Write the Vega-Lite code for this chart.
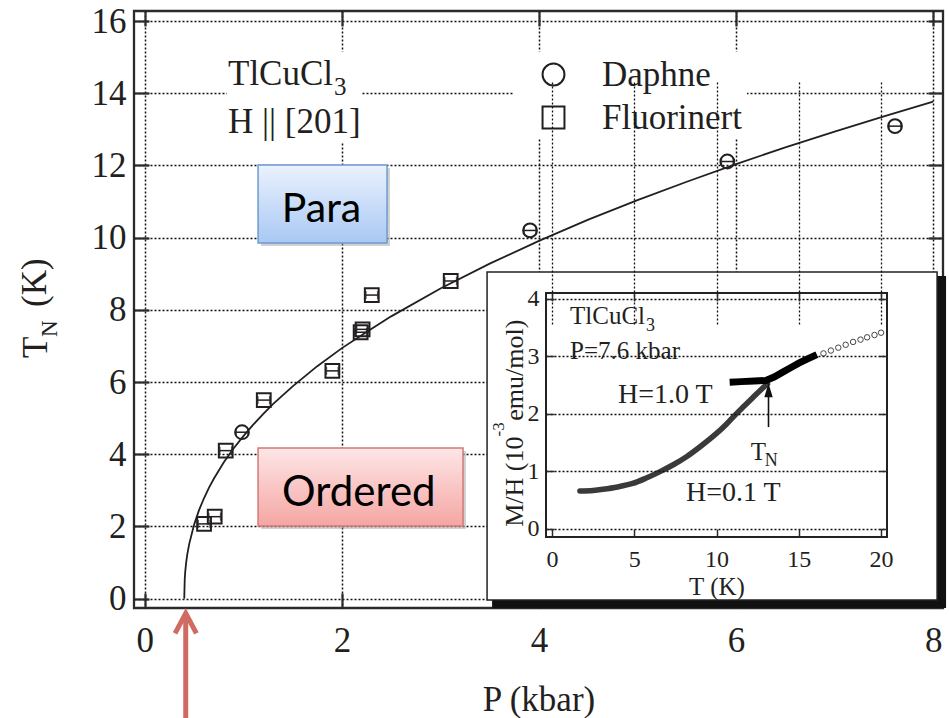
{
  "$schema": "https://vega.github.io/schema/vega-lite/v6.json",
  "width": 809,
  "height": 597,
  "autosize": {"type": "none"},
  "padding": {"left": 134, "top": 11, "right": 6, "bottom": 110},
  "background": "white",
  "datasets": {
    "curve": [
      {"P": 0.4, "TN": 0}, {"P": 0.405, "TN": 0.55}, {"P": 0.41, "TN": 0.75}, {"P": 0.42, "TN": 1.01},
      {"P": 0.43, "TN": 1.21}, {"P": 0.45, "TN": 1.51}, {"P": 0.5, "TN": 2.05}, {"P": 0.55, "TN": 2.45},
      {"P": 0.6, "TN": 2.78}, {"P": 0.65, "TN": 3.07}, {"P": 0.7, "TN": 3.32}, {"P": 0.8, "TN": 3.77},
      {"P": 0.9, "TN": 4.16}, {"P": 1.0, "TN": 4.5}, {"P": 1.1, "TN": 4.82}, {"P": 1.2, "TN": 5.11},
      {"P": 1.3, "TN": 5.39}, {"P": 1.5, "TN": 5.88}, {"P": 1.75, "TN": 6.44}, {"P": 2.0, "TN": 6.94},
      {"P": 2.25, "TN": 7.39}, {"P": 2.5, "TN": 7.82}, {"P": 3.0, "TN": 8.59}, {"P": 3.5, "TN": 9.28},
      {"P": 4.0, "TN": 9.91}, {"P": 4.5, "TN": 10.5}, {"P": 5.0, "TN": 11.04}, {"P": 5.5, "TN": 11.55},
      {"P": 6.0, "TN": 12.04}, {"P": 6.5, "TN": 12.5}, {"P": 7.0, "TN": 12.94}, {"P": 7.5, "TN": 13.36},
      {"P": 8.0, "TN": 13.77}
    ],
    "points": [
      {"medium": "Fluorinert", "P": 0.601, "Pmin": 0.541, "Pmax": 0.661, "TN": 2.07},
      {"medium": "Fluorinert", "P": 0.709, "Pmin": 0.649, "Pmax": 0.769, "TN": 2.27},
      {"medium": "Fluorinert", "P": 0.821, "Pmin": 0.761, "Pmax": 0.881, "TN": 4.10},
      {"medium": "Fluorinert", "P": 1.207, "Pmin": 1.147, "Pmax": 1.267, "TN": 5.50},
      {"medium": "Fluorinert", "P": 1.903, "Pmin": 1.843, "Pmax": 1.963, "TN": 6.31},
      {"medium": "Fluorinert", "P": 2.19, "Pmin": 2.13, "Pmax": 2.25, "TN": 7.38},
      {"medium": "Fluorinert", "P": 2.21, "Pmin": 2.15, "Pmax": 2.27, "TN": 7.46},
      {"medium": "Fluorinert", "P": 2.303, "Pmin": 2.243, "Pmax": 2.363, "TN": 8.41},
      {"medium": "Fluorinert", "P": 3.104, "Pmin": 3.044, "Pmax": 3.164, "TN": 8.80},
      {"medium": "Daphne", "P": 0.986, "Pmin": 0.926, "Pmax": 1.046, "TN": 4.61},
      {"medium": "Daphne", "P": 3.909, "Pmin": 3.849, "Pmax": 3.969, "TN": 10.20},
      {"medium": "Daphne", "P": 5.911, "Pmin": 5.851, "Pmax": 5.971, "TN": 12.11},
      {"medium": "Daphne", "P": 7.613, "Pmin": 7.553, "Pmax": 7.673, "TN": 13.09}
    ],
    "low": [
      {"T": 1.7, "MH": 0.66}, {"T": 2.5, "MH": 0.67}, {"T": 3.1, "MH": 0.69}, {"T": 4.0, "MH": 0.73},
      {"T": 4.9, "MH": 0.79}, {"T": 5.7, "MH": 0.88}, {"T": 6.6, "MH": 1.0}, {"T": 7.4, "MH": 1.12},
      {"T": 8.2, "MH": 1.26}, {"T": 9.1, "MH": 1.45}, {"T": 10.0, "MH": 1.66}, {"T": 10.6, "MH": 1.82},
      {"T": 11.2, "MH": 2.0}, {"T": 11.7, "MH": 2.14}, {"T": 12.2, "MH": 2.28}, {"T": 12.7, "MH": 2.42},
      {"T": 13.1, "MH": 2.52}
    ],
    "high": [
      {"T": 10.8, "MH": 2.55}, {"T": 11.5, "MH": 2.56}, {"T": 12.3, "MH": 2.57}, {"T": 13.0, "MH": 2.58},
      {"T": 13.5, "MH": 2.64}, {"T": 14.0, "MH": 2.72}, {"T": 14.5, "MH": 2.8}, {"T": 15.0, "MH": 2.88},
      {"T": 15.5, "MH": 2.95}, {"T": 16.1, "MH": 3.03}
    ],
    "open": [
      {"T": 16.5, "MH": 3.05}, {"T": 16.95, "MH": 3.1}, {"T": 17.4, "MH": 3.15}, {"T": 17.85, "MH": 3.2},
      {"T": 18.3, "MH": 3.25}, {"T": 18.75, "MH": 3.29}, {"T": 19.15, "MH": 3.33}, {"T": 19.6, "MH": 3.37},
      {"T": 20.0, "MH": 3.41}
    ]
  },
  "layer": [
    {
      "layer": [
        {
          "data": {"name": "curve"},
          "mark": {"type": "line", "color": "#231f20", "strokeWidth": 1.8},
          "encoding": {
            "x": {
              "field": "P", "type": "quantitative",
              "scale": {"domain": [-0.11, 8.1], "nice": false, "zero": false},
              "axis": {
                "values": [0, 2, 4, 6, 8], "format": "d", "grid": true, "gridWidth": 1.5, "gridDash": [2, 2],
                "tickSize": -15, "tickWidth": 2.2, "labelFontSize": 35, "labelBaseline": "alphabetic",
                "labelPadding": 58, "title": "P (kbar)", "titleFontSize": 35, "titleBaseline": "alphabetic",
                "titleY": 102, "zindex": 0
              }
            },
            "y": {
              "field": "TN", "type": "quantitative",
              "scale": {"domain": [-0.26, 16.28], "nice": false, "zero": false},
              "axis": {
                "values": [0, 2, 4, 6, 8, 10, 12, 14, 16], "format": "d", "grid": true, "gridWidth": 1.5, "gridDash": [2, 2],
                "tickSize": -15, "tickWidth": 2.2, "labelFontSize": 35, "labelBaseline": "middle",
                "labelPadding": 23, "title": null, "zindex": 0
              }
            }
          }
        },
        {
          "data": {"values": [{}]},
          "mark": {"type": "rect", "fill": "#9a9a9a", "opacity": 0.45},
          "encoding": {"x": {"datum": 1.179}, "x2": {"datum": 2.488}, "y": {"datum": 11.93}, "y2": {"datum": 9.77}}
        },
        {
          "data": {"values": [{}]},
          "mark": {"type": "rect", "stroke": "#6e9bd0", "strokeWidth": 1.5,
            "fill": {"gradient": "linear", "x1": 0, "y1": 0, "x2": 0, "y2": 1,
              "stops": [{"offset": 0, "color": "#eaf2fd"}, {"offset": 1, "color": "#a9c8f4"}]}},
          "encoding": {"x": {"datum": 1.149}, "x2": {"datum": 2.458}, "y": {"datum": 12.01}, "y2": {"datum": 9.85}}
        },
        {
          "data": {"values": [{}]},
          "mark": {"type": "text", "text": "Para", "font": "Lato", "fontSize": 41, "align": "center", "baseline": "alphabetic", "color": "#000000"},
          "encoding": {"x": {"datum": 1.793}, "y": {"datum": 10.43}}
        },
        {
          "data": {"values": [{}]},
          "mark": {"type": "rect", "fill": "#9a9a9a", "opacity": 0.45},
          "encoding": {"x": {"datum": 1.179}, "x2": {"datum": 3.259}, "y": {"datum": 4.09}, "y2": {"datum": 1.93}}
        },
        {
          "data": {"values": [{}]},
          "mark": {"type": "rect", "stroke": "#d27a76", "strokeWidth": 1.5,
            "fill": {"gradient": "linear", "x1": 0, "y1": 0, "x2": 0, "y2": 1,
              "stops": [{"offset": 0, "color": "#fde6e6"}, {"offset": 1, "color": "#f5a6a4"}]}},
          "encoding": {"x": {"datum": 1.149}, "x2": {"datum": 3.229}, "y": {"datum": 4.17}, "y2": {"datum": 2.01}}
        },
        {
          "data": {"values": [{}]},
          "mark": {"type": "text", "text": "Ordered", "font": "Lato", "fontSize": 42, "align": "center", "baseline": "alphabetic", "color": "#000000"},
          "encoding": {"x": {"datum": 2.172}, "y": {"datum": 2.574}}
        },
        {
          "data": {"values": [{}]},
          "mark": {"type": "rect", "fill": "white"},
          "encoding": {"x": {"datum": 0.834}, "x2": {"datum": 2.204}, "y": {"datum": 15.15}, "y2": {"datum": 12.62}}
        },
        {
          "data": {"values": [{}]},
          "mark": {"type": "rect", "fill": "white"},
          "encoding": {"x": {"datum": 3.737}, "x2": {"datum": 6.111}, "y": {"datum": 15.15}, "y2": {"datum": 12.76}}
        },
        {
          "data": {"name": "points"},
          "mark": {"type": "rule", "color": "#231f20", "strokeWidth": 1.5},
          "encoding": {"x": {"field": "Pmin", "type": "quantitative"}, "x2": {"field": "Pmax"}, "y": {"field": "TN", "type": "quantitative"}}
        },
        {
          "data": {"name": "points"},
          "mark": {"type": "tick", "orient": "vertical", "size": 8, "thickness": 1.5, "color": "#231f20"},
          "encoding": {"x": {"field": "Pmin", "type": "quantitative"}, "y": {"field": "TN", "type": "quantitative"}}
        },
        {
          "data": {"name": "points"},
          "mark": {"type": "tick", "orient": "vertical", "size": 8, "thickness": 1.5, "color": "#231f20"},
          "encoding": {"x": {"field": "Pmax", "type": "quantitative"}, "y": {"field": "TN", "type": "quantitative"}}
        },
        {
          "data": {"name": "points"},
          "mark": {"type": "point", "filled": false, "size": 190, "strokeWidth": 2, "color": "#231f20", "opacity": 1},
          "encoding": {
            "x": {"field": "P", "type": "quantitative"},
            "y": {"field": "TN", "type": "quantitative"},
            "shape": {
              "field": "medium", "type": "nominal",
              "scale": {"domain": ["Daphne", "Fluorinert"], "range": ["circle", "square"]},
              "legend": {
                "title": null, "orient": "none", "legendX": 402, "legendY": 46, "padding": 0,
                "symbolSize": 480, "symbolStrokeWidth": 2, "symbolStrokeColor": "#231f20",
                "labelFont": "Liberation Serif", "labelFontSize": 35, "labelColor": "#231f20",
                "labelOffset": 31, "rowPadding": 7
              }
            }
          }
        },
        {
          "data": {"values": [{}]},
          "mark": {"type": "text", "text": "TlCuCl", "fontSize": 35, "align": "left", "baseline": "alphabetic", "color": "#231f20"},
          "encoding": {"x": {"datum": 0.844}, "y": {"datum": 14.23}}
        },
        {
          "data": {"values": [{}]},
          "mark": {"type": "text", "text": "3", "fontSize": 25, "align": "left", "baseline": "alphabetic", "color": "#231f20"},
          "encoding": {"x": {"datum": 1.92}, "y": {"datum": 13.95}}
        },
        {
          "data": {"values": [{}]},
          "mark": {"type": "text", "text": "H || [201]", "fontSize": 35, "align": "left", "baseline": "alphabetic", "color": "#231f20"},
          "encoding": {"x": {"datum": 0.844}, "y": {"datum": 12.9}}
        },
        {
          "data": {"values": [{}]},
          "mark": {"type": "text", "text": "T", "fontSize": 35, "angle": 270, "align": "left", "baseline": "alphabetic", "color": "#231f20"},
          "encoding": {"x": {"datum": -0.9925}, "y": {"datum": 6.667}}
        },
        {
          "data": {"values": [{}]},
          "mark": {"type": "text", "text": "N", "fontSize": 23, "angle": 270, "align": "left", "baseline": "alphabetic", "color": "#231f20"},
          "encoding": {"x": {"datum": -0.891}, "y": {"datum": 7.249}}
        },
        {
          "data": {"values": [{}]},
          "mark": {"type": "text", "text": "(K)", "fontSize": 35, "angle": 270, "align": "left", "baseline": "alphabetic", "color": "#231f20"},
          "encoding": {"x": {"datum": -1.003}, "y": {"datum": 8.08}}
        },
        {
          "data": {"values": [{}]},
          "mark": {"type": "rule", "color": "#cf6b63", "strokeWidth": 5},
          "encoding": {"x": {"datum": 0.415}, "y": {"datum": -0.5}, "y2": {"datum": -3.4}}
        },
        {
          "data": {"values": [{}]},
          "mark": {"type": "point", "shape": "M-0.535,1L0,0L0.535,1", "size": 1600, "filled": false, "stroke": "#cf6b63", "strokeWidth": 5, "strokeJoin": "miter", "opacity": 1},
          "encoding": {"x": {"datum": 0.415}, "y": {"datum": -0.41}}
        },
        {
          "data": {"values": [{}]},
          "mark": {"type": "rect", "fill": "#111111"},
          "encoding": {"x": {"datum": 3.524}, "x2": {"datum": 8.131}, "y": {"datum": 8.939}, "y2": {"datum": -0.26}}
        },
        {
          "data": {"values": [{}]},
          "mark": {"type": "rect", "fill": "white", "stroke": "#222222", "strokeWidth": 1.5},
          "encoding": {"x": {"datum": 3.473}, "x2": {"datum": 8.04}, "y": {"datum": 9.05}, "y2": {"datum": -0.039}}
        }
      ]
    },
    {
      "layer": [
        {
          "data": {"values": [{}]},
          "mark": {"type": "rect", "fill": null, "fillOpacity": 0, "stroke": "#222222", "strokeWidth": 2},
          "encoding": {
            "x": {
              "datum": -0.36, "type": "quantitative",
              "scale": {"domain": [-0.36, 20.36], "range": [412, 753], "nice": false, "zero": false},
              "axis": {
                "orient": "bottom", "offset": -71, "values": [0, 5, 10, 15, 20], "format": "d", "grid": true, "gridWidth": 1.3,
                "gridDash": [2, 2], "tickSize": -8, "tickWidth": 1.5, "labelFontSize": 24, "labelBaseline": "alphabetic",
                "labelPadding": 37, "title": "T (K)", "titleFontSize": 25, "titleBaseline": "alphabetic", "titleY": 57, "zindex": 1
              }
            },
            "x2": {"datum": 20.36},
            "y": {
              "datum": -0.14, "type": "quantitative",
              "scale": {"domain": [-0.14, 4.1], "range": [526, 282], "nice": false, "zero": false},
              "axis": {
                "orient": "left", "offset": -412, "values": [0, 1, 2, 3, 4], "format": "d", "grid": true, "gridWidth": 1.3,
                "gridDash": [2, 2], "tickSize": -8, "tickWidth": 1.5, "labelFontSize": 24, "labelBaseline": "middle",
                "labelPadding": 15, "title": null, "zindex": 1
              }
            },
            "y2": {"datum": 4.1}
          }
        },
        {
          "data": {"name": "low"},
          "mark": {"type": "line", "color": "#3a3a3a", "strokeWidth": 5.5, "strokeCap": "round", "interpolate": "monotone"},
          "encoding": {"x": {"field": "T", "type": "quantitative"}, "y": {"field": "MH", "type": "quantitative"}}
        },
        {
          "data": {"name": "high"},
          "mark": {"type": "line", "color": "#000000", "strokeWidth": 7, "strokeCap": "butt"},
          "encoding": {"x": {"field": "T", "type": "quantitative"}, "y": {"field": "MH", "type": "quantitative"}}
        },
        {
          "data": {"name": "open"},
          "mark": {"type": "point", "filled": false, "size": 30, "strokeWidth": 1, "color": "#444444", "opacity": 1},
          "encoding": {"x": {"field": "T", "type": "quantitative"}, "y": {"field": "MH", "type": "quantitative"}}
        },
        {
          "data": {"values": [{}]},
          "mark": {"type": "rule", "color": "#111111", "strokeWidth": 1.6},
          "encoding": {"x": {"datum": 13.16}, "y": {"datum": 1.77}, "y2": {"datum": 2.4}}
        },
        {
          "data": {"values": [{}]},
          "mark": {"type": "point", "shape": "M0,-1L-0.6,1L0.6,1Z", "size": 196, "filled": true, "color": "#111111", "opacity": 1},
          "encoding": {"x": {"datum": 13.16}, "y": {"datum": 2.41}}
        },
        {
          "data": {"values": [{}]},
          "mark": {"type": "text", "text": "TlCuCl", "fontSize": 25, "align": "left", "baseline": "alphabetic", "color": "#231f20"},
          "encoding": {"x": {"datum": 1.1}, "y": {"datum": 3.57}}
        },
        {
          "data": {"values": [{}]},
          "mark": {"type": "text", "text": "3", "fontSize": 18, "align": "left", "baseline": "alphabetic", "color": "#231f20"},
          "encoding": {"x": {"datum": 5.72}, "y": {"datum": 3.44}}
        },
        {
          "data": {"values": [{}]},
          "mark": {"type": "text", "text": "P=7.6 kbar", "fontSize": 25, "align": "left", "baseline": "alphabetic", "color": "#231f20"},
          "encoding": {"x": {"datum": 1.1}, "y": {"datum": 2.95}}
        },
        {
          "data": {"values": [{}]},
          "mark": {"type": "text", "text": "H=1.0 T", "fontSize": 28, "align": "left", "baseline": "alphabetic", "color": "#231f20"},
          "encoding": {"x": {"datum": 4.01}, "y": {"datum": 2.19}}
        },
        {
          "data": {"values": [{}]},
          "mark": {"type": "text", "text": "H=0.1 T", "fontSize": 28, "align": "left", "baseline": "alphabetic", "color": "#231f20"},
          "encoding": {"x": {"datum": 8.15}, "y": {"datum": 0.49}}
        },
        {
          "data": {"values": [{}]},
          "mark": {"type": "text", "text": "T", "fontSize": 25, "align": "left", "baseline": "alphabetic", "color": "#231f20"},
          "encoding": {"x": {"datum": 12.08}, "y": {"datum": 1.197}}
        },
        {
          "data": {"values": [{}]},
          "mark": {"type": "text", "text": "N", "fontSize": 18, "align": "left", "baseline": "alphabetic", "color": "#231f20"},
          "encoding": {"x": {"datum": 12.93}, "y": {"datum": 1.09}}
        },
        {
          "data": {"values": [{}]},
          "mark": {"type": "text", "text": "M/H (10", "fontSize": 26, "angle": 270, "align": "left", "baseline": "alphabetic", "color": "#231f20"},
          "encoding": {"x": {"datum": -1.756}, "y": {"datum": 0.038}}
        },
        {
          "data": {"values": [{}]},
          "mark": {"type": "text", "text": "-3", "fontSize": 17, "angle": 270, "align": "left", "baseline": "alphabetic", "color": "#231f20"},
          "encoding": {"x": {"datum": -2.91}, "y": {"datum": 1.607}}
        },
        {
          "data": {"values": [{}]},
          "mark": {"type": "text", "text": "emu/mol)", "fontSize": 26, "angle": 270, "align": "left", "baseline": "alphabetic", "color": "#231f20"},
          "encoding": {"x": {"datum": -1.756}, "y": {"datum": 1.88}}
        }
      ]
    },
    {
      "data": {"values": [{}]},
      "mark": {"type": "point", "opacity": 0},
      "encoding": {
        "x": {
          "datum": 0, "type": "quantitative",
          "scale": {"domain": [-0.11, 8.1], "nice": false, "zero": false},
          "axis": {"orient": "top", "values": [0, 2, 4, 6, 8], "labels": false, "grid": false, "tickSize": -15, "tickWidth": 2.2, "title": null}
        },
        "y": {
          "datum": 0, "type": "quantitative",
          "scale": {"domain": [-0.26, 16.28], "nice": false, "zero": false},
          "axis": {"orient": "right", "values": [0, 2, 4, 6, 8, 10, 12, 14, 16], "labels": false, "grid": false, "tickSize": -15, "tickWidth": 2.2, "title": null}
        }
      }
    },
    {
      "data": {"values": [{}]},
      "mark": {"type": "point", "opacity": 0},
      "encoding": {
        "x": {
          "datum": 0, "type": "quantitative",
          "scale": {"domain": [-0.36, 20.36], "range": [412, 753], "nice": false, "zero": false},
          "axis": {"orient": "top", "offset": -282, "values": [0, 5, 10, 15, 20], "labels": false, "grid": false, "tickSize": -8, "tickWidth": 1.5, "title": null, "zindex": 1}
        },
        "y": {
          "datum": 0, "type": "quantitative",
          "scale": {"domain": [-0.14, 4.1], "range": [526, 282], "nice": false, "zero": false},
          "axis": {"orient": "right", "offset": -56, "values": [0, 1, 2, 3, 4], "labels": false, "grid": false, "tickSize": -8, "tickWidth": 1.5, "title": null, "zindex": 1}
        }
      }
    }
  ],
  "resolve": {
    "scale": {"x": "independent", "y": "independent"},
    "axis": {"x": "independent", "y": "independent"}
  },
  "config": {
    "font": "Liberation Serif",
    "view": {"stroke": "#2b2b2b", "strokeWidth": 2.3},
    "axis": {
      "labelFont": "Liberation Serif", "titleFont": "Liberation Serif", "labelColor": "#231f20",
      "titleColor": "#231f20", "titleFontWeight": "normal", "tickColor": "#2b2b2b", "gridColor": "#111111",
      "gridOpacity": 1, "domain": false, "labelFlush": false, "labelOverlap": false
    },
    "text": {"font": "Liberation Serif"}
  }
}
